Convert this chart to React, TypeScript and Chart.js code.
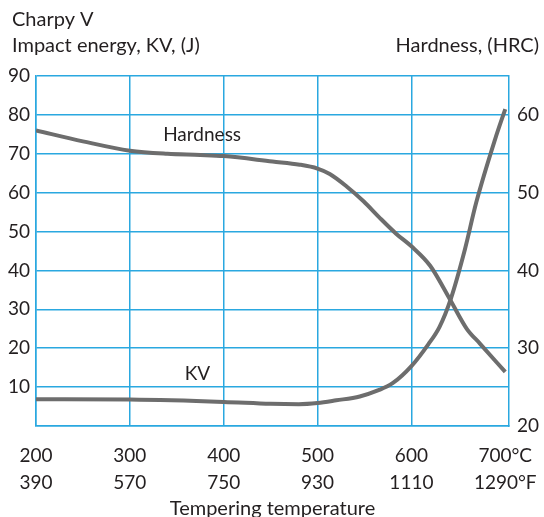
import React, { useEffect, useRef } from "react";
import { Chart, registerables } from "chart.js";

Chart.register(...registerables);

// Tempering temperature (°C) and hardness (HRC)
const hardnessTemp = [200, 250, 300, 340, 375, 400, 452, 481, 500, 513, 531, 549, 566, 584, 600, 620, 641, 659, 673, 700];
const hardnessHRC = [58.0, 56.6, 55.4, 55.0, 54.85, 54.7, 54.0, 53.6, 53.1, 52.4, 50.8, 48.9, 46.8, 44.7, 43.1, 40.6, 36.3, 32.5, 30.6, 26.95];

// Tempering temperature (°C) and Charpy V impact energy (J)
const kvTemp = [200, 300, 400, 450, 480, 500, 520, 545, 565, 580, 600, 618, 630, 642, 657, 669, 689, 700];
const kvJ = [6.9, 6.8, 6.2, 5.7, 5.6, 5.9, 6.6, 7.6, 9.2, 11.0, 15.4, 21.0, 25.5, 32.7, 45.4, 57.4, 73.6, 81.5];

const xTicksC = [200, 300, 400, 500, 600, 700];
const xTicksF = ["390", "570", "750", "930", "1110", "1290°F"];
const xTicksCLabel = ["200", "300", "400", "500", "600", "700°C"];
const leftTicks = [0, 10, 20, 30, 40, 50, 60, 70, 80, 90];
const rightTicks = [20, 30, 40, 50, 60];

const GRID = "#2aa8e0";
const LINE = "#6d6d6d";
const TEXT = "#231f20";
const FONT = "Lato";

export default function App() {
  const ref = useRef<HTMLCanvasElement | null>(null);

  useEffect(() => {
    if (!ref.current) return;
    const textPlugin = {
      id: "texts",
      afterDraw(chart: any) {
        const ctx = chart.ctx;
        const xs = chart.scales.x;
        const ys = chart.scales.y;
        ctx.save();
        ctx.fillStyle = TEXT;
        ctx.font = `20px ${FONT}`;
        ctx.textBaseline = "alphabetic";
        ctx.textAlign = "left";
        ctx.fillText("Charpy V", 12, 26);
        ctx.fillText("Impact energy, KV, (J)", 12, 52);
        ctx.textAlign = "right";
        ctx.fillText("Hardness, (HRC)", 539, 52);
        ctx.textAlign = "center";
        ctx.fillText("Tempering temperature", (chart.chartArea.left + chart.chartArea.right) / 2, 515);
        ctx.font = `19px ${FONT}`;
        ctx.textBaseline = "middle";
        ctx.fillText("Hardness", xs.getPixelForValue(377), ys.getPixelForValue(74.9));
        ctx.fillText("KV", xs.getPixelForValue(372), ys.getPixelForValue(13.5));
        ctx.restore();
      },
    };

    const chart = new Chart(ref.current, {
      type: "line",
      data: {
        datasets: [
          {
            label: "Hardness",
            data: hardnessTemp.map((t, i) => ({ x: t, y: hardnessHRC[i] })),
            yAxisID: "y1",
            borderColor: LINE,
            borderWidth: 4,
            pointRadius: 0,
            cubicInterpolationMode: "monotone",
            borderCapStyle: "butt",
          },
          {
            label: "KV",
            data: kvTemp.map((t, i) => ({ x: t, y: kvJ[i] })),
            yAxisID: "y",
            borderColor: LINE,
            borderWidth: 4,
            pointRadius: 0,
            cubicInterpolationMode: "monotone",
            borderCapStyle: "butt",
          },
        ],
      },
      options: {
        responsive: false,
        animation: false,
        devicePixelRatio: 1,
        layout: { padding: { top: 76, left: 0, right: 0, bottom: 0 } },
        plugins: { legend: { display: false }, tooltip: { enabled: false } },
        scales: {
          x: {
            type: "linear",
            min: 200,
            max: 704,
            afterBuildTicks: (s: any) => {
              s.ticks = xTicksC.map((v) => ({ value: v }));
            },
            afterFit: (s: any) => {
              s.height = 91;
              s.paddingLeft = 0;
              s.paddingRight = 0;
            },
            grid: {
              color: (c: any) => (c.tick && c.tick.value === 700 ? "rgba(0,0,0,0)" : GRID),
              lineWidth: 1.5,
              drawTicks: false,
            },
            border: { color: GRID, width: 1.5 },
            ticks: {
              padding: 17,
              maxRotation: 0,
              autoSkip: false,
              color: TEXT,
              font: { family: FONT, size: 19, lineHeight: 1.4 },
              callback: (v: any) => {
                const i = xTicksC.indexOf(Number(v));
                return i >= 0 ? [xTicksCLabel[i], xTicksF[i]] : "";
              },
            },
          },
          y: {
            type: "linear",
            position: "left",
            min: 0,
            max: 90,
            afterBuildTicks: (s: any) => {
              s.ticks = leftTicks.map((v) => ({ value: v }));
            },
            afterFit: (s: any) => {
              s.width = 36;
              s.paddingTop = 0;
              s.paddingBottom = 0;
            },
            grid: { color: GRID, lineWidth: 1.5, drawTicks: false },
            border: { color: GRID, width: 1.5 },
            ticks: {
              padding: 6,
              color: TEXT,
              font: { family: FONT, size: 19 },
              callback: (v: any) => (Number(v) === 0 ? "" : String(v)),
            },
          },
          y1: {
            type: "linear",
            position: "right",
            min: 20,
            max: 65,
            afterBuildTicks: (s: any) => {
              s.ticks = rightTicks.map((v) => ({ value: v }));
            },
            afterFit: (s: any) => {
              s.width = 35;
              s.paddingTop = 0;
              s.paddingBottom = 0;
            },
            grid: { display: false, drawTicks: false },
            border: { color: GRID, width: 1.5 },
            ticks: {
              padding: 8,
              color: TEXT,
              font: { family: FONT, size: 19 },
              callback: (v: any) => String(v),
            },
          },
        },
      },
      plugins: [textPlugin],
    } as any);
    return () => chart.destroy();
  }, []);

  return (
    <div style={{ position: "fixed", left: 0, top: 0, width: 544, height: 517, background: "#fff" }}>
      <canvas ref={ref} width={544} height={517} style={{ width: 544, height: 517 }} />
    </div>
  );
}
